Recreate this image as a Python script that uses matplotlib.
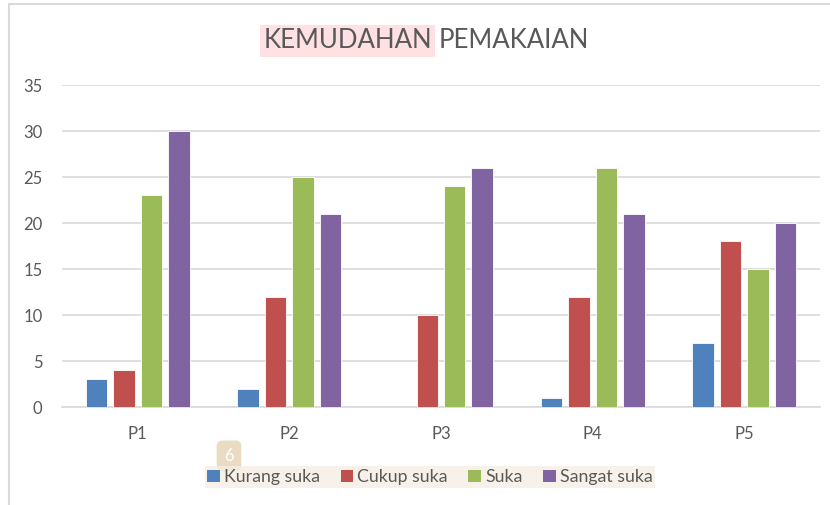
import numpy as np
import matplotlib
matplotlib.use('Agg')
import matplotlib.pyplot as plt
from matplotlib.patches import Rectangle, Patch

# data
categories = ['P1', 'P2', 'P3', 'P4', 'P5']
series_names = ['Kurang suka', 'Cukup suka', 'Suka', 'Sangat suka']
kurang_suka = [3, 2, 0, 1, 7]
cukup_suka = [4, 12, 10, 12, 18]
suka = [23, 25, 24, 26, 15]
sangat_suka = [30, 21, 26, 21, 20]
y_ticks = [0, 5, 10, 15, 20, 25, 30, 35]

colors = ['#4F81BD', '#C0504D', '#9BBB59', '#8064A2']
text_grey = '#595959'

plt.rcParams['font.family'] = ['Lato', 'DejaVu Sans']

W, H = 830, 505
fig = plt.figure(figsize=(W / 100, H / 100), dpi=100)

# outer chart frame (left + top visible)
fig.patches.append(Rectangle((9 / W, -0.1), 1.2, 1 - 4 / H + 0.1, transform=fig.transFigure,
                             facecolor='none', edgecolor='#D9D9D9', linewidth=1.5))

ax = fig.add_axes([62 / W, 1 - 407 / H, (820 - 62) / W, (407 - 85) / H])

x = np.arange(len(categories))
step = 0.181
width = 0.142
for j, vals in enumerate([kurang_suka, cukup_suka, suka, sangat_suka]):
    ax.bar(x + (j - 1.5) * step, vals, width, color=colors[j], edgecolor='white',
           linewidth=0.6, zorder=3)

ax.set_xlim(-0.5, len(categories) - 0.5)
ax.set_ylim(0, 35)
ax.set_yticks(y_ticks)
ax.set_xticks(x)
ax.set_xticklabels(categories)
ax.yaxis.grid(True, color='#D9D9D9', linewidth=1.2, zorder=0)
for s in ['top', 'right', 'left']:
    ax.spines[s].set_visible(False)
ax.spines['bottom'].set_color('#D9D9D9')
ax.spines['bottom'].set_linewidth(1.2)
ax.tick_params(axis='both', length=0, labelsize=12, labelcolor=text_grey)
ax.tick_params(axis='x', pad=14)
ax.tick_params(axis='y', pad=14)

# title with highlighted first word
fig.text(432 / W, 1 - 41 / H, 'KEMUDAHAN', ha='right', va='center', fontsize=18.5,
         color=text_grey,
         bbox=dict(boxstyle='square,pad=0.12', facecolor='#FFE0E3', edgecolor='none'))
fig.text(439 / W, 1 - 41 / H, 'PEMAKAIAN', ha='left', va='center', fontsize=18.5,
         color=text_grey)

# legend
handles = [Patch(facecolor=c, edgecolor='none') for c in colors]
leg = fig.legend(handles, series_names, loc='center', bbox_to_anchor=(430 / W, 1 - 477 / H),
                 ncol=4, fontsize=12.8, frameon=True, handlelength=0.7, handleheight=0.7,
                 handletextpad=0.25, columnspacing=1.15, borderpad=0.15)
leg.get_frame().set_facecolor('#F5EEE4')
leg.get_frame().set_edgecolor('none')
leg.get_frame().set_boxstyle('square', pad=0)
for t in leg.get_texts():
    t.set_color(text_grey)

# small badge above legend
fig.text(229 / W, 1 - 456 / H, '6', ha='center', va='center', fontsize=12, color='white',
         bbox=dict(boxstyle='round,pad=0.45,rounding_size=0.35', facecolor='#EADCC3',
                   edgecolor='none'))

fig.savefig('out.png', dpi=100)
